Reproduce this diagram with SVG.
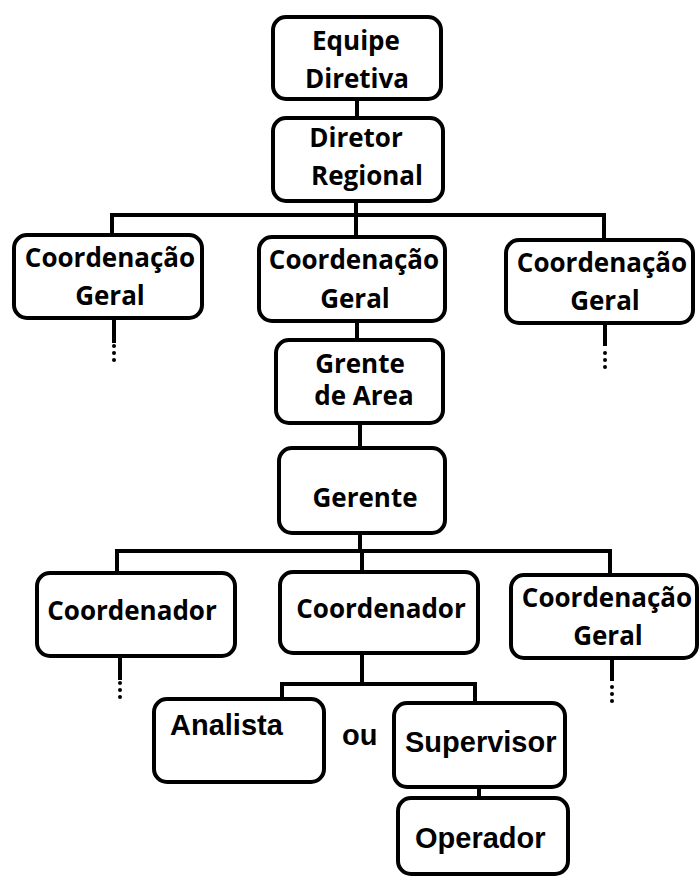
<svg xmlns="http://www.w3.org/2000/svg" width="699" height="877" viewBox="0 0 699 877">
<style>
.box{fill:#fff;stroke:#000;stroke-width:4}
.t{font-family:"Open Sans","Noto Sans",sans-serif;font-weight:bold;font-size:26px;fill:#000;text-anchor:middle}
.a{font-family:"Liberation Sans",Arial,sans-serif;font-weight:bold;font-size:29px;fill:#000}
.c{fill:none;stroke:#000;stroke-width:4}
.d{fill:#000}
</style>
<rect width="699" height="877" fill="#fff"/>
<g id="connectors">
<path class="c" d="M357 99V118"/>
<path class="c" d="M356 200V237M112 234V215H604V240"/>
<path class="c" d="M114 318V343M605 323V346"/>
<path class="c" d="M357 321V340M360 423V448"/>
<path class="c" d="M360 533V551M117 572V551H610V575M362 551V572"/>
<path class="c" d="M120 656V680M612 658V681"/>
<path class="c" d="M362 653V684M282 699V684H475V703"/>
<path class="c" d="M479 787V798"/>
<circle class="d" cx="114" cy="346" r="2"/><circle class="d" cx="114" cy="353" r="2"/><circle class="d" cx="114" cy="360" r="2"/>
<circle class="d" cx="605" cy="353" r="2"/><circle class="d" cx="605" cy="360" r="2"/><circle class="d" cx="605" cy="367" r="2"/>
<circle class="d" cx="120" cy="683" r="2"/><circle class="d" cx="120" cy="690" r="2"/><circle class="d" cx="120" cy="697" r="2"/>
<circle class="d" cx="612" cy="687" r="2"/><circle class="d" cx="612" cy="694" r="2"/><circle class="d" cx="612" cy="701" r="2"/>
</g>
<g id="equipe"><rect class="box" x="273" y="17" width="168" height="82" rx="13"/><text class="t" x="356" y="50">Equipe</text><text class="t" x="357" y="88">Diretiva</text></g>
<g id="diretor"><rect class="box" x="273" y="118" width="170" height="83" rx="13"/><text class="t" x="356" y="147">Diretor</text><text class="t" x="367" y="185">Regional</text></g>
<g id="cg1"><rect class="box" x="14" y="235" width="188" height="83" rx="13"/><text class="t" x="110" y="267">Coordenação</text><text class="t" x="110" y="305">Geral</text></g>
<g id="cg2"><rect class="box" x="259" y="237" width="186" height="84" rx="13"/><text class="t" x="354" y="269">Coordenação</text><text class="t" x="355" y="308">Geral</text></g>
<g id="cg3"><rect class="box" x="506" y="240" width="187" height="83" rx="13"/><text class="t" x="602" y="272">Coordenação</text><text class="t" x="605" y="310">Geral</text></g>
<g id="grente"><rect class="box" x="276" y="340" width="167" height="83" rx="13"/><text class="t" x="360" y="373">Grente</text><text class="t" x="364" y="405">de Area</text></g>
<g id="gerente"><rect class="box" x="279" y="448" width="166" height="85" rx="13"/><text class="t" x="365" y="507">Gerente</text></g>
<g id="coord1"><rect class="box" x="37" y="573" width="198" height="83" rx="13"/><text class="t" x="132" y="620">Coordenador</text></g>
<g id="coord2"><rect class="box" x="280" y="572" width="198" height="81" rx="13"/><text class="t" x="381" y="618">Coordenador</text></g>
<g id="cg4"><rect class="box" x="511" y="575" width="186" height="83" rx="13"/><text class="t" x="607" y="607">Coordenação</text><text class="t" x="608" y="645">Geral</text></g>
<g id="analista"><rect class="box" x="154" y="699" width="170" height="83" rx="13"/><text class="a" x="170" y="735" font-size="30">Analista</text></g>
<g id="ou"><text class="a" x="342" y="745" font-size="27">ou</text></g>
<g id="supervisor"><rect class="box" x="394" y="703" width="171" height="84" rx="13"/><text class="a" x="405" y="752">Supervisor</text></g>
<g id="operador"><rect class="box" x="398" y="798" width="170" height="76" rx="13"/><text class="a" x="415" y="848">Operador</text></g>
</svg>
